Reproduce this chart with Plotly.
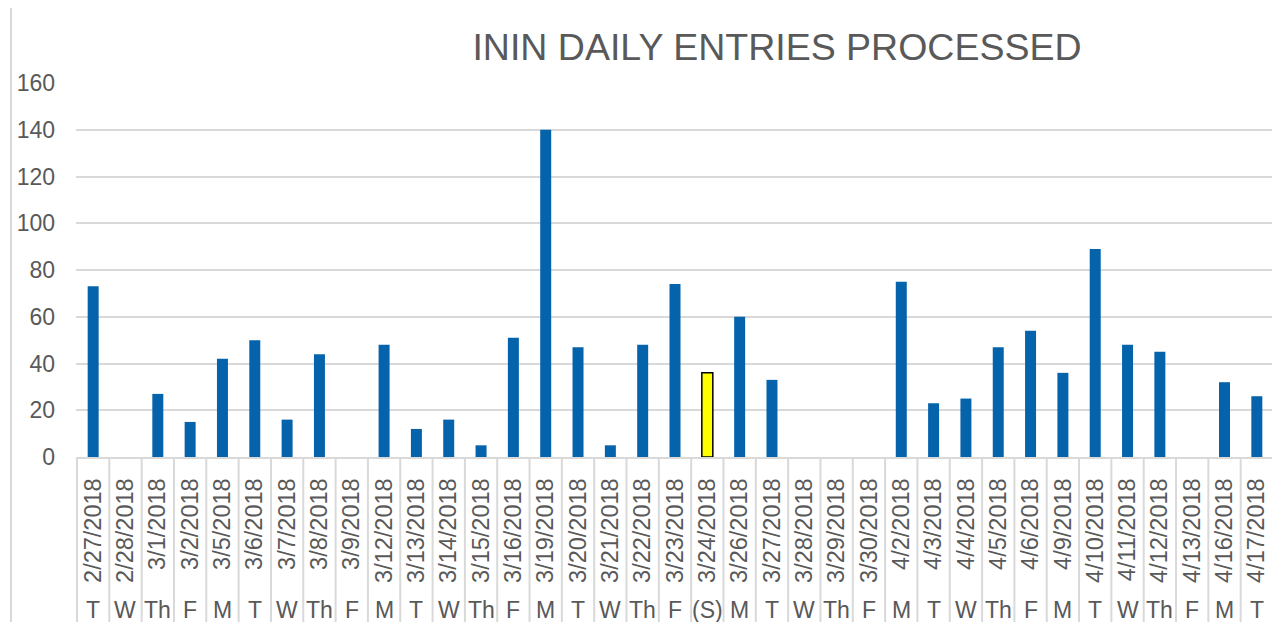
import plotly.graph_objects as go

dates = ["2/27/2018", "2/28/2018", "3/1/2018", "3/2/2018", "3/5/2018", "3/6/2018", "3/7/2018",
         "3/8/2018", "3/9/2018", "3/12/2018", "3/13/2018", "3/14/2018", "3/15/2018", "3/16/2018",
         "3/19/2018", "3/20/2018", "3/21/2018", "3/22/2018", "3/23/2018", "3/24/2018", "3/26/2018",
         "3/27/2018", "3/28/2018", "3/29/2018", "3/30/2018", "4/2/2018", "4/3/2018", "4/4/2018",
         "4/5/2018", "4/6/2018", "4/9/2018", "4/10/2018", "4/11/2018", "4/12/2018", "4/13/2018",
         "4/16/2018", "4/17/2018"]
weekdays = ["T", "W", "Th", "F", "M", "T", "W", "Th", "F", "M", "T", "W", "Th", "F",
            "M", "T", "W", "Th", "F", "(S)", "M", "T", "W", "Th", "F", "M", "T", "W",
            "Th", "F", "M", "T", "W", "Th", "F", "M", "T"]
entries = [73, 0, 27, 15, 42, 50, 16, 44, 0, 48, 12, 16, 5, 51, 140, 47, 5, 48, 74, 36, 60,
           33, 0, 0, 0, 75, 23, 25, 47, 54, 36, 89, 48, 45, 0, 32, 26]
highlight_date = "3/24/2018"

BLUE = "#0563AB"
GRAY_TXT = "#595959"
GRID = "#D9D9D9"
FONT = "Liberation Sans, Arial, sans-serif"

colors = ["#FFFF00" if d == highlight_date else BLUE for d in dates]
line_w = [1.5 if d == highlight_date else 0 for d in dates]

fig = go.Figure(go.Bar(
    x=dates, y=entries,
    marker=dict(color=colors, line=dict(color="#000000", width=line_w)),
))

# page body has an 8px margin; figure is sized/margined to compensate
PLOT_H = 374
fig.update_layout(
    width=1272, height=614,
    margin=dict(l=68, r=6, t=75, b=165, autoexpand=False),
    paper_bgcolor="white", plot_bgcolor="white",
    font=dict(family=FONT, color=GRAY_TXT, size=23),
    bargap=0.66,
    showlegend=False,
    title=dict(text="ININ DAILY ENTRIES PROCESSED", xref="paper", x=(777 - 76) / 1198,
               xanchor="center", yref="container", y=1 - 39 / 614, yanchor="middle",
               font=dict(size=37.5, color=GRAY_TXT)),
)
fig.update_xaxes(
    type="category", tickangle=-90, showgrid=False,
    showline=True, linecolor=GRID, linewidth=2,
    ticks="", ticklabelstandoff=10,
    tickfont=dict(size=23.5, color=GRAY_TXT),
)
fig.update_yaxes(
    range=[0, 160], dtick=20, showgrid=True, gridcolor=GRID, gridwidth=1.5,
    zeroline=False, showline=False, ticklabelstandoff=20,
    tickfont=dict(size=23, color=GRAY_TXT),
)

# second category level: weekday labels under each date
for d, w in zip(dates, weekdays):
    fig.add_annotation(x=d, xref="x", y=(457 - 610) / PLOT_H, yref="paper",
                       text=w, showarrow=False, xanchor="center", yanchor="middle",
                       font=dict(size=23, color=GRAY_TXT, family=FONT))

# category dividers spanning both label rows
for i in range(len(dates) + 1):
    fig.add_shape(type="line", xref="x", yref="paper",
                  x0=i - 0.5, x1=i - 0.5, y0=0, y1=(457 - 622) / PLOT_H,
                  line=dict(color=GRID, width=2))

# chart-area left border
fig.add_shape(type="line", xref="paper", yref="paper",
              x0=-65 / 1198, x1=-65 / 1198, y0=-165 / PLOT_H, y1=449 / PLOT_H,
              line=dict(color=GRID, width=2))

fig.write_html("out.html")
